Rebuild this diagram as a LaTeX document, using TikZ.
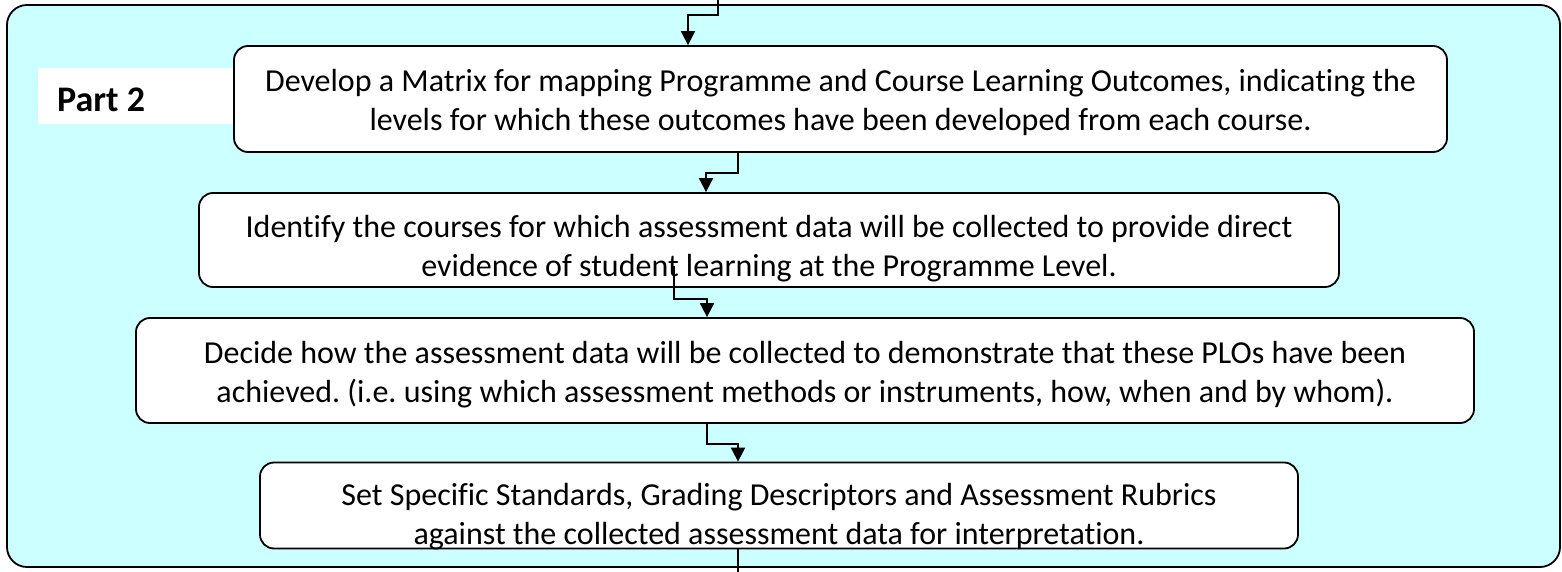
\documentclass[tikz,border=0pt]{standalone}
\usepackage{fontspec}
\setmainfont{Carlito}[Ligatures=CommonOff]
\usetikzlibrary{arrows.meta,calc}
\definecolor{bgcyan}{RGB}{204,255,255}
\newcommand\fstrut[1]{\rule{0pt}{#1pt}}
\newcommand\lstrut{\rule[-8pt]{0pt}{8pt}}
\tikzset{
  stepbox/.style={draw=black,line width=1.8pt,fill=white,rounded corners=14pt,
    inner sep=0pt,align=center,font=\fontsize{32}{39}\selectfont},
  conn/.style={draw=black,line width=2pt,-{Triangle[width=14pt,length=14pt]}},
  plainconn/.style={draw=black,line width=2pt}
}
\begin{document}
\frenchspacing
\begin{tikzpicture}[x=1pt,y=-1pt]
\useasboundingbox (0,0) rectangle (1562,572);
\fill[white] (0,0) rectangle (1562,572);
\draw[line width=1.8pt,fill=bgcyan,rounded corners=20pt] (7,5) rectangle (1560,567);
\fill[white] (38,68) rectangle (236,124);
\node[anchor=west,inner sep=0pt,font=\fontsize{36}{40}\selectfont\bfseries] (p2) at (57,100) {Part 2};
\node[stepbox,minimum width=1213pt,minimum height=106pt] (b1) at (840.5,99)
  {\fstrut{33}Develop a Matrix for mapping Programme and Course Learning Outcomes, indicating the\\levels for which these outcomes have been developed from each course.\lstrut};
\node[stepbox,minimum width=1140pt,minimum height=94pt] (b2) at (769,240)
  {\fstrut{41}Identify the courses for which assessment data will be collected to provide direct\\evidence of student learning at the Programme Level.\lstrut};
\node[stepbox,minimum width=1338pt,minimum height=105pt] (b3) at (805,370.5)
  {\fstrut{32}Decide how the assessment data will be collected to demonstrate that these PLOs have been\\achieved. (i.e. using which assessment methods or instruments, how, when and by whom).\lstrut};
\node[stepbox,inner ysep=-4pt,minimum width=1038pt,minimum height=86pt] (b4) at (779,505.5)
  {\fstrut{47}Set Specific Standards, Grading Descriptors and Assessment Rubrics\\against the collected assessment data for interpretation.\lstrut};
\coordinate (t0) at (718,0);
\coordinate (bend) at (738,572);
\draw[conn] (t0) -- ++(0,15.5) -| ([xshift=-152.5pt]b1.north);
\draw[conn] ([xshift=-102.5pt]b1.south) -- ++(0,20) -| ([xshift=-63pt]b2.north);
\draw[conn] ([xshift=-95pt,yshift=22pt]b2.south) -- ++(0,33) -| ([xshift=-98pt]b3.north);
\draw[conn] ([xshift=-98pt]b3.south) -- ++(0,20) -| ([xshift=-41pt]b4.north);
\draw[plainconn] ([xshift=-41pt]b4.south) -- (bend);
\end{tikzpicture}
\end{document}
